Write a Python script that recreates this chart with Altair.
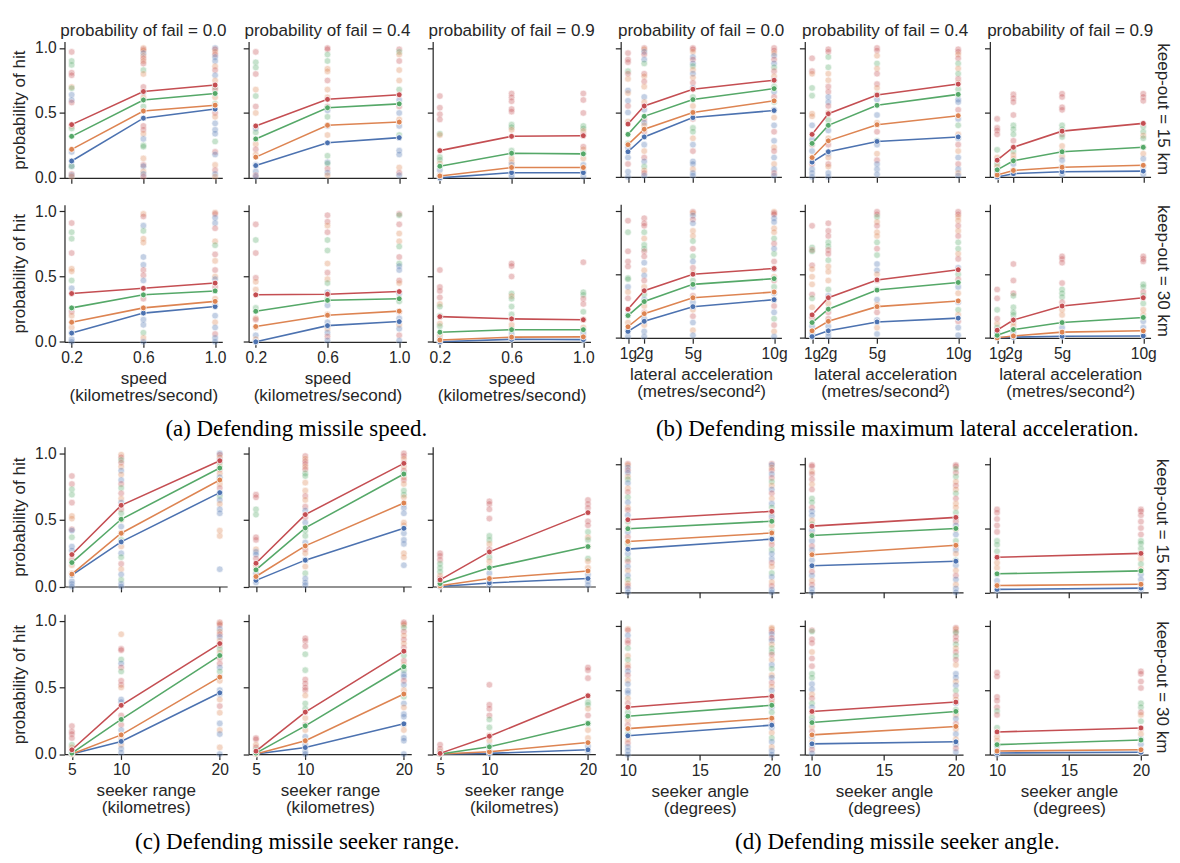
import altair as alt
import pandas as pd

SANS = "Liberation Sans"
SERIF = "Liberation Serif"
INK = "#262626"

SERIES = ["b", "o", "g", "r"]
SERIES_COLORS = ["#4c72b0", "#dd8452", "#55a868", "#c44e52"]
FAILS = ["0.0", "0.4", "0.9"]

# ---------------- (a) speed ----------------
A_X = [0.2, 0.6, 1.0]
A_TICKS = [0.2, 0.6, 1.0]
A_LINES = {
    ("15", "0.0"): {"b": [0.13, 0.46, 0.53], "o": [0.22, 0.515, 0.56], "g": [0.32, 0.60, 0.65], "r": [0.41, 0.665, 0.715]},
    ("15", "0.4"): {"b": [0.095, 0.27, 0.31], "o": [0.16, 0.405, 0.43], "g": [0.30, 0.54, 0.57], "r": [0.40, 0.605, 0.64]},
    ("15", "0.9"): {"b": [0.0, 0.04, 0.04], "o": [0.015, 0.08, 0.08], "g": [0.09, 0.19, 0.185], "r": [0.21, 0.32, 0.325]},
    ("30", "0.0"): {"b": [0.067, 0.22, 0.27], "o": [0.15, 0.26, 0.31], "g": [0.26, 0.36, 0.39], "r": [0.37, 0.41, 0.45]},
    ("30", "0.4"): {"b": [0.0, 0.124, 0.155], "o": [0.117, 0.204, 0.235], "g": [0.234, 0.318, 0.33], "r": [0.36, 0.365, 0.385]},
    ("30", "0.9"): {"b": [0.0, 0.019, 0.017], "o": [0.014, 0.036, 0.038], "g": [0.074, 0.093, 0.093], "r": [0.193, 0.176, 0.169]},
}
A_PTS = {
    ("15", "0.0"): [
        "r.97 g.90 g.87 r.81 r.79 o.70 g.69 b.64 b.60 r.58 o.40 g.38 b.20 b.09 g.09 r.03 b.02 o.01",
        "o1.0 r.99 o.98 b.96 o.94 r.92 o.90 r.88 g.83 o.80 r.70 b.66 o.62 g.55 r.40 r.37 o.34 b.30 g.25 g.24 o.15 r.10 b.09 o.05 b.03 r.01",
        "b1.0 r.99 o.97 r.95 b.93 b.90 o.86 r.83 b.79 o.75 g.70 r.68 o.62 g.57 r.50 o.47 b.42 b.37 b.34 g.28 r.20 b.18 o.10 r.06 b.03 o.01"],
    ("15", "0.4"): [
        "r.97 g.89 g.85 r.80 o.68 g.63 r.55 o.50 b.38 g.35 o.26 r.22 o.18 b.10 b.05 r.02 b.01",
        "r1.0 r.99 g.95 g.90 o.84 o.82 r.75 o.68 o.62 r.55 b.52 g.47 b.40 o.33 g.17 b.12 g.11 r.07 b.04 o.02",
        "r.99 g.97 o.95 r.90 o.83 o.75 g.68 b.60 r.55 b.50 o.45 b.40 g.33 b.21 b.18 o.08 r.04 b.02"],
    ("15", "0.9"): [
        "r.63 r.54 r.49 r.45 g.34 o.33 g.16 g.14 o.11 b.06 o.02 b.01",
        "r.65 r.62 r.59 r.53 r.51 g.41 g.39 o.37 g.21 o.15 o.12 b.10 b.03 b.01",
        "r.65 r.60 r.50 g.40 g.38 o.36 r.33 r.24 o.22 g.19 o.15 b.10 b.05 b.01"],
    ("30", "0.0"): [
        "r.91 g.84 g.79 r.68 o.56 o.54 g.47 b.41 r.23 o.20 o.11 b.07 b.02 b.0",
        "o.98 r.96 b.89 g.85 o.79 o.76 b.65 b.59 r.55 r.51 b.47 r.33 b.17 b.13 g.07 o.03 b.0",
        "o.99 r.98 b.95 b.91 r.87 o.77 g.74 r.67 o.62 r.55 o.50 b.48 r.42 o.33 b.28 b.20 o.15 b.11 r.06 b.03 b.0"],
    ("30", "0.4"): [
        "r.90 g.78 r.68 r.49 o.46 o.40 g.26 o.18 r.17 o.11 b.05 o.02 b.0",
        "r.97 r.92 o.89 r.84 g.78 g.70 o.60 r.53 o.48 g.45 b.38 g.33 b.28 o.21 b.15 o.10 b.07 r.04 b.01",
        "r.98 g.97 r.90 o.83 o.77 g.73 r.65 g.60 b.58 b.55 r.47 o.45 b.37 g.31 r.23 b.18 o.13 b.10 r.05 b.01"],
    ("30", "0.9"): [
        "r.55 r.42 r.39 r.34 o.29 g.27 g.20 o.14 g.12 o.05 b.02 b.0",
        "r.60 r.58 r.50 g.37 o.35 g.33 g.27 g.21 o.13 o.10 b.06 b.02",
        "r.61 g.38 g.36 r.33 r.29 g.23 o.17 o.11 b.07 b.04 b.01"],
}

# ---------------- (b) lateral acceleration ----------------
B_X = [1, 2, 5, 10]
B_TICKS = [1, 2, 5, 10]
B_LINES = {
    ("15", "0.0"): {"b": [0.195, 0.31, 0.46, 0.515], "o": [0.25, 0.37, 0.50, 0.59], "g": [0.33, 0.47, 0.60, 0.685], "r": [0.41, 0.55, 0.68, 0.75]},
    ("15", "0.4"): {"b": [0.115, 0.195, 0.275, 0.31], "o": [0.15, 0.28, 0.405, 0.475], "g": [0.26, 0.40, 0.555, 0.64], "r": [0.33, 0.49, 0.635, 0.72]},
    ("15", "0.9"): {"b": [0.0, 0.025, 0.04, 0.045], "o": [0.015, 0.05, 0.075, 0.09], "g": [0.055, 0.125, 0.195, 0.23], "r": [0.13, 0.23, 0.355, 0.415]},
    ("30", "0.0"): {"b": [0.05, 0.13, 0.245, 0.30], "o": [0.087, 0.19, 0.315, 0.36], "g": [0.175, 0.285, 0.42, 0.465], "r": [0.225, 0.37, 0.50, 0.545]},
    ("30", "0.4"): {"b": [0.01, 0.055, 0.125, 0.155], "o": [0.055, 0.13, 0.245, 0.29], "g": [0.12, 0.225, 0.375, 0.435], "r": [0.18, 0.315, 0.455, 0.535]},
    ("30", "0.9"): {"b": [0.0, 0.005, 0.012, 0.015], "o": [0.0, 0.015, 0.045, 0.055], "g": [0.02, 0.065, 0.12, 0.16], "r": [0.06, 0.14, 0.25, 0.315]},
}
B_PTS = {
    ("15", "0.0"): [
        "r.96 r.91 r.89 g.82 r.80 o.76 b.67 o.65 b.59 r.55 b.50 o.43 g.26 b.23 b.15 r.10 b.04 b.0",
        "r1.0 o.99 b.97 r.95 b.91 g.88 r.80 o.78 r.74 o.70 b.62 o.58 b.52 r.45 b.42 o.40 r.35 b.25 o.20 r.15 b.12 g.08 o.05 r.03 b.01",
        "r1.0 r.99 o.97 b.93 r.91 b.88 g.86 o.83 b.80 o.77 r.73 b.69 g.62 o.55 b.50 r.45 g.38 g.35 o.30 b.25 r.20 b.12 b.10 o.06 b.03 b.01",
        "r1.0 r.98 o.96 b.94 r.91 b.88 g.85 r.82 o.78 b.75 g.70 b.66 r.62 g.58 b.52 o.46 b.40 r.35 b.28 o.23 r.20 b.15 o.10 b.06 r.03 b.01"],
    ("15", "0.4"): [
        "r.92 r.82 o.80 g.69 g.63 o.49 o.47 b.40 b.29 r.25 b.20 o.15 r.10 b.06 b.03 b.0",
        "r.99 r.97 g.93 g.85 o.80 o.75 r.70 r.66 b.62 b.58 r.55 o.50 g.44 b.36 o.30 r.25 b.18 o.15 r.10 o.08 b.03 b.0",
        "r1.0 r.98 o.94 g.88 o.84 r.80 r.72 o.69 g.64 b.60 b.48 o.42 r.35 g.28 b.25 o.18 r.13 b.10 b.06 b.02",
        "r.99 r.97 o.95 r.92 g.88 o.84 g.80 r.76 o.73 g.68 b.60 b.58 r.52 b.45 g.40 o.33 b.30 r.25 o.20 b.15 r.10 b.06 o.03 b.01"],
    ("15", "0.9"): [
        "r.45 r.38 r.36 r.33 g.21 o.15 g.10 o.08 b.05 b.02",
        "r.64 r.61 r.58 r.48 g.40 g.37 g.33 r.28 g.20 o.17 o.14 b.10 b.05",
        "r.645 r.62 r.54 r.52 g.40 g.37 r.33 g.31 o.24 o.20 o.16 b.13 b.08 b.02",
        "r.645 r.62 r.59 g.39 g.35 o.32 g.30 o.23 o.18 b.14 b.08 b.02"],
    ("30", "0.0"): [
        "r.92 g.83 r.68 r.60 r.56 g.47 g.46 b.40 o.36 r.31 b.18 o.12 b.06 b.01",
        "r.94 r.90 r.88 g.83 o.78 g.73 g.70 r.68 r.64 b.59 o.53 b.49 r.45 o.40 g.34 b.30 o.25 r.20 b.15 o.10 b.05 b.01",
        "r.99 o.98 b.96 r.93 b.90 o.84 o.80 g.76 r.70 g.64 b.60 r.55 o.51 g.45 b.40 r.33 b.28 o.22 r.17 b.12 o.06 b.02",
        "o.99 r.98 r.97 b.94 b.91 o.86 o.83 g.78 r.74 b.70 g.66 r.60 b.54 o.48 r.45 g.40 b.35 o.30 r.25 b.20 g.15 r.10 o.05 b.01"],
    ("30", "0.4"): [
        "r.88 g.71 r.69 g.68 r.57 o.54 o.48 o.42 r.34 g.31 o.24 r.16 b.09 b.04 b.01",
        "r.90 r.84 r.80 g.75 g.72 r.69 r.66 g.61 o.56 o.52 o.45 g.38 b.33 o.27 r.20 r.15 b.09 b.04 b.01",
        "r.99 r.97 g.95 o.91 r.88 o.83 o.80 g.75 r.70 g.65 b.58 b.53 o.50 r.45 g.38 b.30 o.26 r.20 b.14 o.08 b.03",
        "r.99 r.97 o.95 o.92 r.88 o.84 r.80 g.75 g.70 o.66 r.62 b.55 g.50 r.46 b.40 o.35 b.28 g.22 o.18 r.13 b.08 b.02"],
    ("30", "0.9"): [
        "r.38 r.31 g.22 r.15 o.11 g.08 b.04 b.01",
        "r.58 r.45 r.35 g.33 g.24 g.20 g.18 o.12 o.09 b.04 b.01",
        "r.64 r.62 r.59 r.43 g.38 g.35 g.32 r.28 o.22 o.18 o.12 b.08 b.04 b.01",
        "r.64 r.62 r.60 g.42 g.40 r.36 g.33 g.27 o.22 o.18 b.13 b.08 b.02"],
}

# ---------------- (c) seeker range ----------------
C_X = [5, 10, 20]
C_TICKS = [5, 10, 20]
C_LINES = {
    ("15", "0.0"): {"b": [0.085, 0.335, 0.705], "o": [0.093, 0.40, 0.80], "g": [0.18, 0.505, 0.89], "r": [0.24, 0.61, 0.945]},
    ("15", "0.4"): {"b": [0.046, 0.198, 0.437], "o": [0.075, 0.305, 0.627], "g": [0.125, 0.44, 0.845], "r": [0.175, 0.54, 0.925]},
    ("15", "0.9"): {"b": [0.0, 0.027, 0.06], "o": [0.005, 0.06, 0.117], "g": [0.022, 0.14, 0.30], "r": [0.05, 0.26, 0.555]},
    ("30", "0.0"): {"b": [0.0, 0.095, 0.46], "o": [0.0, 0.144, 0.578], "g": [0.007, 0.26, 0.74], "r": [0.032, 0.366, 0.83]},
    ("30", "0.4"): {"b": [0.0, 0.049, 0.227], "o": [0.0, 0.10, 0.451], "g": [0.007, 0.212, 0.656], "r": [0.022, 0.315, 0.773]},
    ("30", "0.9"): {"b": [0.0, 0.005, 0.032], "o": [0.0, 0.017, 0.086], "g": [0.0, 0.054, 0.23], "r": [0.005, 0.134, 0.438]},
}
C_PTS = {
    ("15", "0.0"): [
        "r.83 r.77 g.73 g.69 r.63 o.53 o.51 r.43 b.42 g.37 b.30 b.27 r.20 o.16 o.10 b.04 b.02 b.0",
        "o.99 r.97 g.95 r.93 o.90 b.87 o.84 b.80 r.77 g.74 r.70 o.66 b.63 r.58 g.55 o.50 b.45 r.40 g.35 o.30 b.25 g.22 r.17 o.13 b.09 g.05 b.02 b.0",
        "b1.0 r.99 o.97 b.95 g.93 o.90 r.88 o.85 b.82 g.80 o.77 r.74 b.70 g.68 b.65 o.62 b.58 b.55 o.42 o.38 b.13"],
    ("15", "0.4"): [
        "r.69 r.67 g.58 g.54 r.37 r.35 o.28 b.26 b.24 r.21 o.16 o.13 b.10 b.07 b.03",
        "r.98 o.96 r.94 r.92 o.90 r.88 g.85 g.83 o.78 o.72 r.68 o.65 r.60 b.57 r.52 b.48 g.42 g.38 b.33 r.28 o.25 b.20 o.15 g.10 b.06 b.03 b.01",
        "r1.0 r.98 o.96 r.93 o.90 r.87 g.85 o.82 r.80 o.77 g.72 g.69 o.67 b.62 b.59 b.55 o.48 o.46 b.40 b.35 b.32 o.25 o.22 b.16"],
    ("15", "0.9"): [
        "r.25 r.23 r.20 g.17 g.14 g.11 o.08 r.06 b.04 b.01",
        "r.64 r.62 r.58 r.51 g.38 g.35 o.32 r.28 g.22 o.19 o.15 b.10 b.05 b.01",
        "r.65 r.62 r.59 r.49 r.46 g.41 o.37 g.35 o.30 g.21 o.19 o.14 b.09 b.04 b.01"],
    ("30", "0.0"): [
        "r.21 r.17 r.15 r.12 g.07 o.05 b.02 b.0",
        "o.90 r.79 r.78 g.71 b.68 r.65 g.62 r.55 r.52 o.50 b.41 b.39 r.29 r.22 b.18 o.12 o.07 b.04 b.01",
        "r.99 o.98 r.97 b.94 o.92 r.90 b.88 o.85 r.82 g.79 o.76 r.72 r.68 b.65 g.62 b.58 o.55 b.48 b.45 o.41 r.36 o.31 b.23 o.18 b.15 o.05 b.0"],
    ("30", "0.4"): [
        "r.12 r.11 o.07 r.05 g.03 b.01",
        "r.87 r.85 r.81 g.75 g.63 r.56 r.53 r.50 r.48 o.44 g.38 g.34 o.27 r.22 o.18 b.13 b.07 b.02 b.0",
        "r.99 r.98 o.97 g.95 r.92 o.89 r.86 o.83 r.80 g.74 r.70 o.67 g.63 b.60 b.58 r.55 b.52 o.48 g.43 b.38 o.35 b.30 b.28 o.22 o.18 b.12 b.10 b.0"],
    ("30", "0.9"): [
        "r.07 r.04 o.02 b.01",
        "r.52 r.37 r.34 r.29 g.26 g.20 o.14 o.10 b.06 b.02",
        "r.65 r.63 r.57 g.39 g.37 o.34 r.29 g.23 o.18 o.12 b.06 b.02"],
}

# ---------------- (d) seeker angle ----------------
D_X = [10, 20]
D_TICKS = [10, 15, 20]
D_LINES = {
    ("15", "0.0"): {"b": [0.336, 0.414], "o": [0.396, 0.462], "g": [0.495, 0.553], "r": [0.565, 0.63]},
    ("15", "0.4"): {"b": [0.207, 0.242], "o": [0.293, 0.366], "g": [0.442, 0.497], "r": [0.515, 0.583]},
    ("15", "0.9"): {"b": [0.023, 0.033], "o": [0.053, 0.063], "g": [0.144, 0.167], "r": [0.273, 0.303]},
    ("30", "0.0"): {"b": [0.147, 0.23], "o": [0.203, 0.284], "g": [0.30, 0.385], "r": [0.37, 0.456]},
    ("30", "0.4"): {"b": [0.084, 0.10], "o": [0.154, 0.22], "g": [0.25, 0.337], "r": [0.337, 0.41]},
    ("30", "0.9"): {"b": [0.013, 0.018], "o": [0.028, 0.038], "g": [0.078, 0.114], "r": [0.177, 0.208]},
}
D_PTS = {
    ("15", "0.0"): [
        "r1.0 o.99 b.97 r.95 b.93 o.90 g.88 b.85 o.81 r.78 g.74 b.70 o.66 r.64 b.60 g.55 o.50 b.47 r.43 g.38 o.34 b.30 g.26 r.24 b.20 o.17 b.13 g.10 o.07 r.05 b.03 b.0",
        "r1.0 b.99 o.97 r.95 b.92 r.89 g.86 o.83 b.80 r.77 o.73 b.69 g.66 o.62 b.59 r.56 o.52 g.47 b.42 o.40 r.37 g.33 b.30 b.26 r.23 o.20 g.15 b.12 o.08 r.05 b.02 b.0"],
    ("15", "0.4"): [
        "r.99 r.98 o.94 r.92 r.88 o.84 r.80 g.73 g.70 r.66 b.63 b.60 o.56 g.53 b.48 o.45 b.40 r.36 b.33 o.30 b.25 o.20 r.16 b.13 o.09 r.06 b.03 b.0",
        "r.99 r.98 g.96 r.93 g.90 o.86 r.83 o.80 g.77 r.73 o.69 o.66 g.62 b.58 r.55 b.52 o.49 b.45 g.40 r.36 b.33 o.30 g.25 b.21 o.17 r.13 b.10 o.06 b.03 b.0"],
    ("15", "0.9"): [
        "r.645 r.62 r.57 r.52 r.47 g.40 g.37 g.32 o.27 o.23 o.19 b.14 b.09 b.05 b.01",
        "r.645 r.63 r.60 r.55 r.50 r.45 g.40 g.38 g.34 o.30 o.26 g.22 o.18 b.14 b.10 b.06 b.02"],
    ("30", "0.0"): [
        "o.98 r.97 b.93 r.89 r.87 g.83 o.77 g.74 o.70 r.68 b.65 r.62 o.58 b.55 b.50 b.48 o.44 r.40 o.37 g.33 b.30 o.27 r.23 b.20 g.16 o.12 r.09 b.06 b.03 b.0",
        "o.99 o.98 r.96 b.94 r.91 b.89 o.86 g.83 g.80 r.78 o.74 b.70 g.67 o.62 b.60 r.56 o.53 b.50 g.46 r.43 o.40 b.37 g.33 o.28 r.24 b.21 o.17 g.13 b.10 o.06 b.03 b.0"],
    ("30", "0.4"): [
        "r.97 g.96 r.90 r.87 o.80 r.75 r.69 g.63 g.60 b.55 b.51 o.47 r.44 g.40 b.37 o.33 g.29 b.26 o.22 r.18 b.14 o.10 b.07 r.04 b.01",
        "r.99 o.98 r.96 g.95 r.92 r.89 g.86 o.83 r.80 g.77 r.74 o.70 b.63 b.60 o.57 b.54 g.50 r.46 o.43 b.40 g.35 o.31 b.28 r.24 o.20 b.16 o.12 b.08 r.05 b.02"],
    ("30", "0.9"): [
        "r.64 r.61 r.45 r.42 r.37 g.34 r.31 g.21 o.18 o.14 o.11 b.07 b.03 b.0",
        "r.65 r.63 r.57 r.52 g.40 g.37 r.33 o.31 g.26 o.20 o.16 b.12 b.08 b.03"],
}

FIGS = {
    "a": dict(xs=A_X, ticks=A_TICKS, lines=A_LINES, pts=A_PTS, dom=[0.16, 1.04], fmt=".1f",
              xtitle=["speed", "(kilometres/second)"], ylab=True),
    "b": dict(xs=B_X, ticks=B_TICKS, lines=B_LINES, pts=B_PTS, dom=[0.55, 10.45], expr="datum.value + 'g'",
              xtitle=["lateral acceleration", "(metres/second²)"], ylab=False),
    "c": dict(xs=C_X, ticks=C_TICKS, lines=C_LINES, pts=C_PTS, dom=[4.25, 20.75], fmt="d",
              xtitle=["seeker range", "(kilometres)"], ylab=True),
    "d": dict(xs=D_X, ticks=D_TICKS, lines=D_LINES, pts=D_PTS, dom=[9.5, 20.5], fmt="d",
              xtitle=["seeker angle", "(degrees)"], ylab=False),
}

CAPTIONS = {
    "a": "(a) Defending missile speed.",
    "b": "(b) Defending missile maximum lateral acceleration.",
    "c": "(c) Defending missile seeker range.",
    "d": "(d) Defending missile seeker angle.",
}

COLOR = alt.Color("s:N", scale=alt.Scale(domain=SERIES, range=SERIES_COLORS), legend=None)


def text_layer(txt, x, y, **kw):
    return alt.Chart(pd.DataFrame({"t": [txt]})).mark_text(**kw).encode(
        x=alt.value(x), y=alt.value(y), text="t:N")


def panel(key, keep, fail, w, cell_h, off, h, top_row, col, caption=None, rowlab=None, rowlab_dx=13):
    f = FIGS[key]
    lrows = []
    for s in SERIES:
        for xv, yv in zip(f["xs"], f["lines"][(keep, fail)][s]):
            lrows.append({"x": xv, "y": yv, "s": s})
    ldf = pd.DataFrame(lrows)
    prows = []
    for xv, colstr in zip(f["xs"], f["pts"][(keep, fail)]):
        for tok in colstr.split():
            prows.append({"x": xv, "y": float(tok[1:]), "s": tok[0]})
    pdf = pd.DataFrame(prows)

    xkw = dict(values=f["ticks"], labelFlush=False, labelOverlap=False, labelPadding=3,
               titlePadding=4, titleLineHeight=18, offset=(off + h) - cell_h)
    if top_row:
        xkw.update(labels=False, title=None)
    else:
        xkw["title"] = f["xtitle"]
        if "expr" in f:
            xkw["labelExpr"] = f["expr"]
        else:
            xkw["format"] = f["fmt"]
    ykw = dict(values=[0, 0.5, 1.0], labelFlush=False, labelPadding=3, titlePadding=6)
    if f["ylab"] and col == 0:
        ykw.update(format=".1f", title="probability of hit")
    else:
        ykw.update(labels=False, title=None)

    X = alt.X("x:Q", scale=alt.Scale(domain=f["dom"], nice=False, zero=False), axis=alt.Axis(**xkw))
    Y = alt.Y("y:Q", scale=alt.Scale(domain=[0, 1.05], range=[off + h, off], nice=False, zero=False),
              axis=alt.Axis(**ykw))

    layers = [
        alt.Chart(pdf).mark_circle(size=46, opacity=0.33, stroke="white", strokeWidth=0.6).encode(x=X, y=Y, color=COLOR),
        alt.Chart(ldf).mark_line(strokeWidth=1.6).encode(x=X, y=Y, color=COLOR),
        alt.Chart(ldf).mark_circle(size=36, opacity=1, stroke="white", strokeWidth=0.8).encode(x=X, y=Y, color=COLOR),
    ]
    if top_row and key in ("a", "b"):
        layers.append(text_layer("probability of fail = " + fail, w / 2, off - 6, font=SANS, fontSize=17.5,
                                 align="center", baseline="alphabetic", color=INK))
    if rowlab:
        layers.append(text_layer(rowlab, w + rowlab_dx, off + h / 2, angle=90, font=SANS, fontSize=17.5,
                                 align="center", baseline="middle", color=INK))
    if caption:
        layers.append(text_layer(caption[0], caption[1], caption[2], font=SERIF, fontSize=23.5,
                                 align="center", baseline="alphabetic", color="black"))
    return alt.layer(*layers).properties(width=w, height=cell_h)


def spacer(w, h):
    return alt.Chart(pd.DataFrame({"a": [0]})).mark_point(opacity=0).encode(
        x=alt.value(0), y=alt.value(0)).properties(width=w, height=h)


# ---------------- layout (grid flow, flush bounds; every row has one height) ----------------
TOP_W = [54, 162, 21.7, 162, 21.7, 162, 19.6, 165, 24, 165, 25, 165]
BOT_W = [54.3, 167, 20, 167, 20, 167, 25.9, 162.5, 19.6, 162.5, 19.6, 162.5]
PANEL_COLS = {1: 0, 3: 1, 5: 2, 7: 0, 9: 1, 11: 2}


def gap_row(widths, h):
    return [spacer(widths[i], h) for i in range(12)]


def panel_row(widths, lkey, rkey, keep, top_row, cell_h, lgeom, rgeom, caps=None, rowlab=None, rdx=13):
    out = []
    for i in range(12):
        if i in PANEL_COLS:
            c = PANEL_COLS[i]
            key = lkey if i < 6 else rkey
            off, h = lgeom if i < 6 else rgeom
            cap = caps[key] if (caps and c == 1) else None
            rl = rowlab if i == 11 else None
            out.append(panel(key, keep, FAILS[c], widths[i], cell_h, off, h, top_row, c,
                             caption=cap, rowlab=rl, rowlab_dx=rdx))
        else:
            out.append(spacer(widths[i], cell_h))
    return out


cells = []
cells += gap_row(TOP_W, 19.6)
cells += panel_row(TOP_W, "a", "b", "15", True, 140, (0, 140), (0, 139), rowlab="keep-out = 15 km")
cells += gap_row(TOP_W, 26.8)
cells += panel_row(TOP_W, "a", "b", "30", False, 141.3, (0.6, 140.7), (0, 137.2),
                   caps={"a": (CAPTIONS["a"], 49.0, 237.6), "b": (CAPTIONS["b"], 95.0, 237.6)},
                   rowlab="keep-out = 30 km")
cells += gap_row(TOP_W, 106.5)
cells += panel_row(BOT_W, "c", "d", "15", True, 149.5, (0, 143.5), (10.9, 138.6),
                   rowlab="keep-out = 15 km", rdx=14)
cells += gap_row(BOT_W, 21.5)
cells += panel_row(BOT_W, "c", "d", "30", False, 144.1, (0, 143.5), (5.9, 138.2),
                   caps={"c": (CAPTIONS["c"], 50.0, 240.8), "d": (CAPTIONS["d"], 95.0, 240.8)},
                   rowlab="keep-out = 30 km", rdx=14)

chart = alt.ConcatChart(concat=cells, columns=12, spacing=0, bounds="flush", align="none", padding=0)
chart = chart.configure_axis(
    domainColor=INK, domainWidth=1.25, tickColor=INK, tickWidth=1.25, tickSize=5.5,
    labelFont=SANS, labelFontSize=16, labelColor=INK,
    titleFont=SANS, titleFontSize=17.5, titleFontWeight="normal", titleColor=INK, grid=False,
).configure_view(strokeWidth=0)

chart.save("out.html", embed_options={"renderer": "svg", "actions": False})
